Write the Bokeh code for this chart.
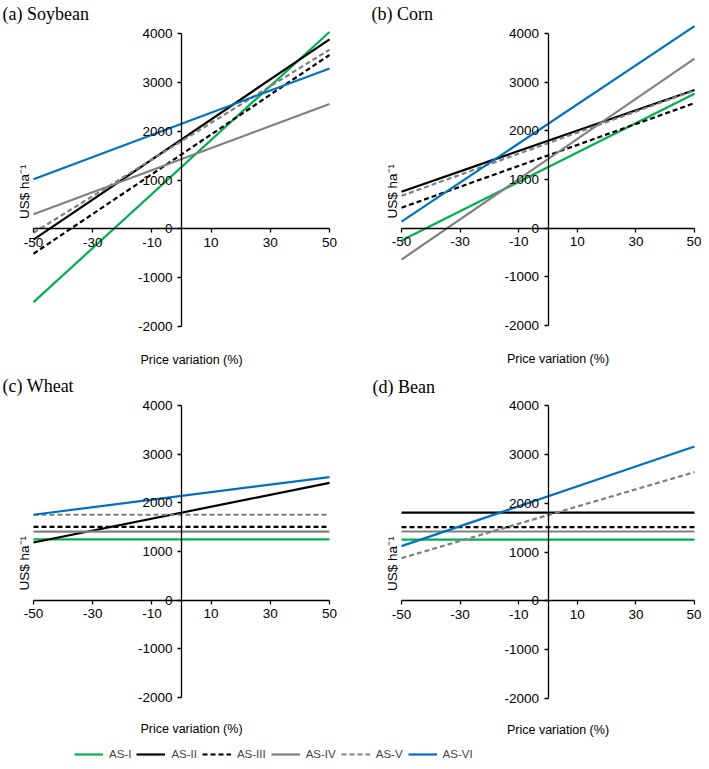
import math
from bokeh.plotting import figure
from bokeh.models import Range1d, LinearAxis, FixedTicker, Label, Legend, LegendItem
from bokeh.layouts import column, row
from bokeh.embed import file_html
from bokeh.resources import INLINE

# ---- data -------------------------------------------------------------
price_var = [-50, 50]                     # price variation (%)
series = ["AS-I", "AS-II", "AS-III", "AS-IV", "AS-V", "AS-VI"]
x_ticks = [-50, -30, -10, 10, 30, 50]
y_ticks = [-2000, -1000, 0, 1000, 2000, 3000, 4000]

# US$ ha-1 at -50 % and +50 % price variation, per system
soybean_at_m50 = [-1500, -220, -510, 300, -80, 1015]
soybean_at_p50 = [4030, 3880, 3560, 2555, 3670, 3285]
corn_at_m50 = [-255, 750, 420, -645, 665, 135]
corn_at_p50 = [2760, 2840, 2570, 3485, 2830, 4150]
wheat_at_m50 = [1250, 1185, 1505, 1410, 1755, 1755]
wheat_at_p50 = [1250, 2410, 1505, 1410, 1755, 2530]
bean_at_m50 = [1255, 1805, 1510, 1420, 875, 1120]
bean_at_p50 = [1255, 1805, 1510, 1420, 2635, 3160]

colors = ["#00B050", "#000000", "#000000", "#808080", "#808080", "#0070C0"]
dashes = ["solid", "solid", "5 3", "solid", "5 3", "solid"]

SANS = "Liberation Sans"
SERIF = "Liberation Serif"

X0, X1 = -50, 50
Y0, Y1 = -2000, 4000


def make_panel(title, starts, ends, width, height, left_px, right_px, top_px, bottom_px,
               title_dx, title_dy, price_dy):
    # frame covers the whole canvas; ranges chosen so that the data box sits
    # at the wanted pixel positions (left/right/top/bottom of the data box)
    sx = (X1 - X0) / (right_px - left_px)
    sy = (Y1 - Y0) / (bottom_px - top_px)
    xr = Range1d(X0 - left_px * sx, X1 + (width - right_px) * sx)
    yr = Range1d(Y0 - (height - bottom_px) * sy, Y1 + top_px * sy)
    p = figure(width=width, height=height, x_range=xr, y_range=yr,
               output_backend="svg", toolbar_location=None,
               x_axis_type=None, y_axis_type=None,
               min_border_left=0, min_border_top=0,
               min_border_right=0, min_border_bottom=0)
    p.outline_line_color = None
    p.background_fill_color = "white"

    for s, e, c, d in zip(starts, ends, colors, dashes):
        p.line(price_var, [s, e], line_color=c, line_width=2.2, line_dash=d)

    xa = LinearAxis(fixed_location=0, ticker=FixedTicker(ticks=x_ticks), bounds=(X0, X1))
    ya = LinearAxis(fixed_location=0, ticker=FixedTicker(ticks=y_ticks), bounds=(Y0, Y1))
    xa.major_label_overrides = {t: str(t) for t in x_ticks}
    ya.major_label_overrides = {t: str(t) for t in y_ticks}
    for ax in (xa, ya):
        ax.axis_line_color = "black"
        ax.axis_line_width = 1.3
        ax.major_tick_line_color = "black"
        ax.major_tick_line_width = 1.3
        ax.major_tick_in = 0
        ax.major_tick_out = 4
        ax.minor_tick_line_color = None
        ax.major_label_text_font = SANS
        ax.major_label_text_font_size = "13.5px"
        ax.major_label_text_color = "black"
        ax.major_label_standoff = 5
    p.add_layout(xa, "below")
    p.add_layout(ya, "left")

    p.add_layout(Label(x=X0, y=Y1, x_offset=title_dx, y_offset=title_dy,
                       text=title, text_font=SERIF, text_font_size="18px",
                       text_baseline="top", text_align="left", text_color="black"))
    p.add_layout(Label(x=0, y=Y0, x_offset=10, y_offset=price_dy,
                       text="Price variation (%)", text_font=SANS,
                       text_font_size="12.5px", text_baseline="top",
                       text_align="center", text_color="black"))
    p.add_layout(Label(x=X0, y=760, x_offset=-2, angle=math.pi / 2,
                       text="US$ ha\u207b\u00b9", text_font=SANS,
                       text_font_size="13.5px", text_baseline="bottom",
                       text_align="center", text_color="black"))
    return p


pa = make_panel("(a) Soybean", soybean_at_m50, soybean_at_p50,
                350, 368, 33, 329, 33, 326, -31, 30, -26)
pb = make_panel("(b) Corn", corn_at_m50, corn_at_p50,
                351, 368, 51, 344, 33, 325, -30, 30, -26)
pc = make_panel("(c) Wheat", wheat_at_m50, wheat_at_p50,
                350, 369, 33, 329, 37, 329, -31, 30, -24)
pd = make_panel("(d) Bean", bean_at_m50, bean_at_p50,
                351, 369, 51, 344, 37, 330, -29, 29, -24)

# ---- legend strip -------------------------------------------------------
leg = figure(width=701, height=24, output_backend="svg", toolbar_location=None,
             x_axis_type=None, y_axis_type=None,
             x_range=Range1d(0, 1), y_range=Range1d(0, 1), min_border=0)
leg.outline_line_color = None
items = []
for name, c, d in zip(series, colors, dashes):
    r = leg.line([5, 6], [5, 6], line_color=c, line_width=2.2, line_dash=d)
    items.append(LegendItem(label=name, renderers=[r]))
legend = Legend(items=items, orientation="horizontal", location=(74, 0),
                glyph_width=29, glyph_height=14, label_standoff=6, spacing=5,
                padding=0, margin=0, border_line_color=None,
                background_fill_alpha=0, label_text_font=SANS,
                label_text_font_size="11.5px", label_height=14,
                label_text_baseline="middle")
leg.add_layout(legend, "center")

layout = column(row(pa, pb), row(pc, pd), leg)

with open("out.html", "w") as f:
    f.write(file_html(layout, INLINE))
